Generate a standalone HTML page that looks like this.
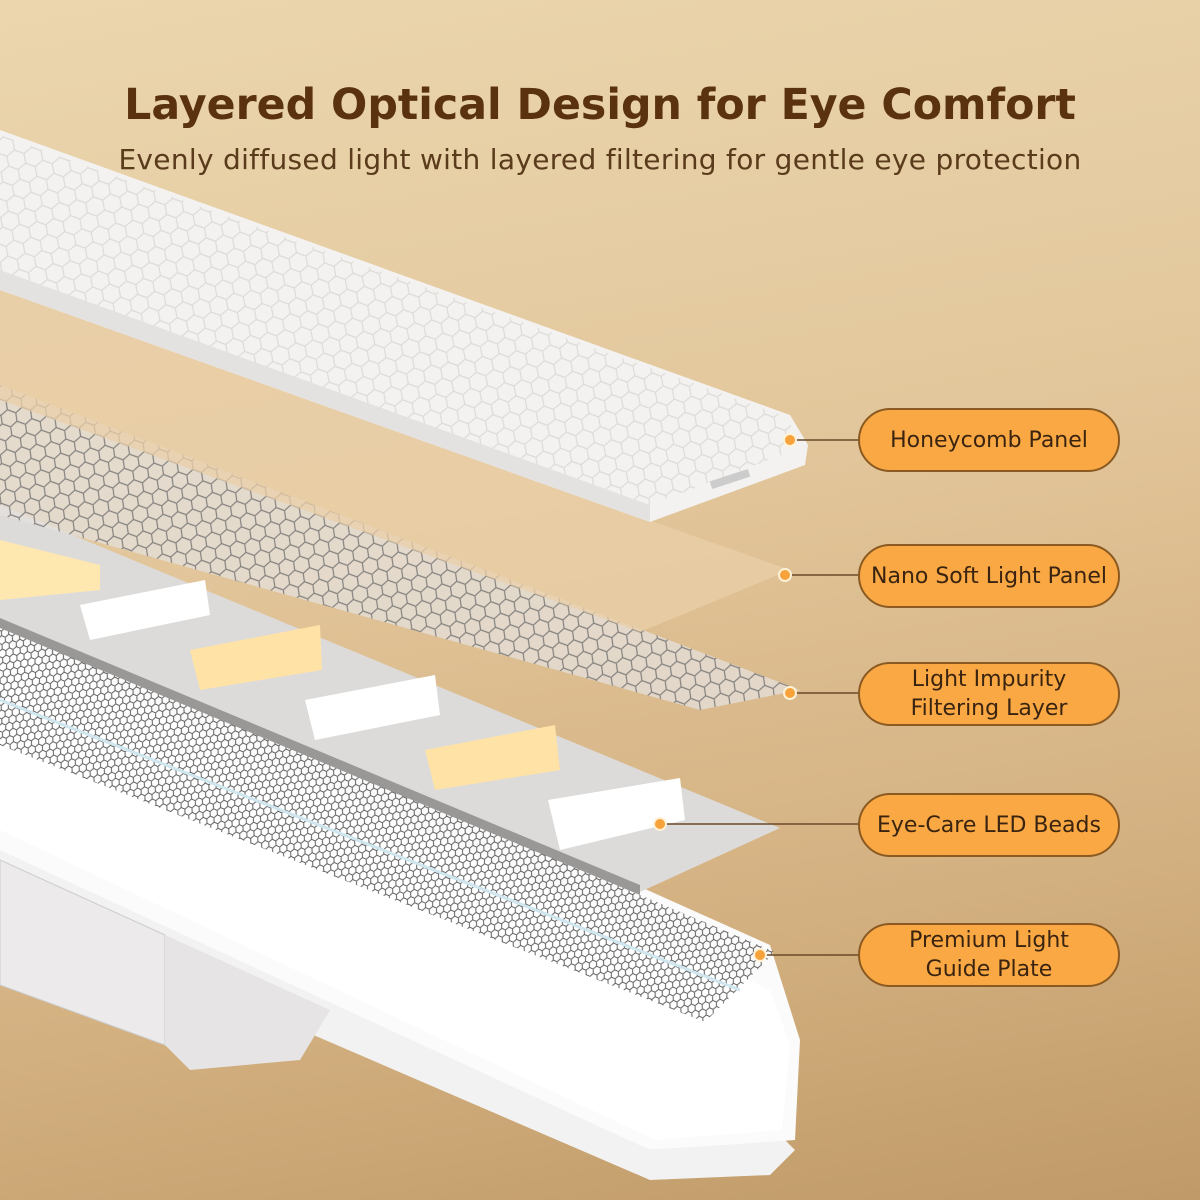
<!DOCTYPE html>
<html><head><meta charset="utf-8"><style>
html,body{margin:0;padding:0}
body{width:1200px;height:1200px;overflow:hidden;position:relative;font-family:"DejaVu Sans","Liberation Sans",sans-serif;background:linear-gradient(170deg,#ebd6ae 0%,#e3c79c 40%,#d3b080 75%,#c09a68 100%)}
h1{position:absolute;top:80px;left:0;width:1200px;text-align:center;margin:0;font-size:42.7px;font-weight:bold;color:#5a3210}
.sub{position:absolute;top:143px;left:0;width:1200px;text-align:center;font-size:28px;color:#5a3b1c;letter-spacing:0.3px}
.pill{position:absolute;left:858px;width:258px;height:60px;border:2px solid #8a5a22;border-radius:32px;background:#f9a844;display:flex;align-items:center;justify-content:center;text-align:center;font-size:22px;line-height:29px;color:#3a2410}
svg{position:absolute;left:0;top:0}
</style></head><body>
<svg width="1200" height="1200" viewBox="0 0 1200 1200">
<defs>
<pattern id="hx" width="30" height="17" patternUnits="userSpaceOnUse" patternTransform="rotate(20)">
<path d="M0 8.5 L5 0 H15 L20 8.5 L15 17 H5 Z M20 8.5 H30" fill="none" stroke="#dcdad6" stroke-width="1.2"/></pattern>
<pattern id="hx2" width="26" height="15" patternUnits="userSpaceOnUse" patternTransform="rotate(20)">
<path d="M0 7.5 L4 0 H13 L17 7.5 L13 15 H4 Z M17 7.5 H26" fill="none" stroke="#6a6a6a" stroke-width="1.2"/></pattern>
<pattern id="hx3" width="12" height="8" patternUnits="userSpaceOnUse" patternTransform="rotate(24)">
<path d="M0 4 L2 0 H6 L8 4 L6 8 H2 Z M8 4 H12" fill="none" stroke="#444" stroke-width="1"/></pattern>
</defs>
<!-- light guide plate -->
<polygon points="0,840 650,1150 785,1140 795,1150 770,1175 650,1180 0,900" fill="#f2f2f2"/>
<polygon points="0,600 770,945 800,1040 795,1140 650,1150 0,850" fill="#fbfbfb"/>
<polygon points="0,640 770,990 790,1045 782,1130 655,1140 0,830" fill="#ffffff"/>
<polygon points="0,625 775,952 705,1022 0,745" fill="url(#hx3)" opacity="0.85"/>
<line x1="0" y1="700" x2="740" y2="990" stroke="#cfe6ee" stroke-width="3"/>
<polygon points="0,860 165,935 165,1045 0,985" fill="#eceaea" stroke="#ccc"/>
<polygon points="165,935 330,1010 300,1060 190,1070 165,1045" fill="#e6e4e4"/>
<!-- LED strip -->
<polygon points="0,505 780,828 640,892 0,620" fill="#dddbd9"/>
<polygon points="0,618 640,885 640,895 0,628" fill="#9a9896"/>
<g>
<polygon points="0,540 100,565 100,590 0,600" fill="#ffe7b0"/>
<polygon points="80,605 205,580 210,615 90,640" fill="#ffffff"/>
<polygon points="190,650 320,625 322,670 200,690" fill="#ffe2a6"/>
<polygon points="305,700 435,675 440,715 315,740" fill="#ffffff"/>
<polygon points="425,750 555,725 560,770 435,790" fill="#ffe2a6"/>
<polygon points="548,800 680,778 685,820 560,850" fill="#ffffff"/>
</g>
<!-- filtering layer -->
<polygon points="0,385 800,690 700,710 0,515" fill="#e4e0dc" opacity="0.75"/>
<polygon points="0,385 800,690 700,710 0,515" fill="url(#hx2)" opacity="0.8"/>
<!-- nano soft panel -->
<polygon points="0,290 790,570 640,632 0,400" fill="#e9cfa8" opacity="0.75"/>
<!-- honeycomb panel -->
<polygon points="0,130 790,415 808,445 805,465 650,522 0,290" fill="#f3f2f0"/>
<polygon points="0,135 790,418 795,450 650,505 0,275" fill="url(#hx)"/>
<polygon points="0,270 650,505 650,522 0,290" fill="#e4e2e0"/>
<rect x="710" y="475" width="40" height="8" fill="#ccc" transform="rotate(-18 730 479)"/>
<!-- connectors -->
<g stroke="#6a4a2a" stroke-width="1.5">
<line x1="790" y1="440" x2="858" y2="440"/><line x1="785" y1="575" x2="858" y2="575"/>
<line x1="790" y1="693" x2="858" y2="693"/><line x1="660" y1="824" x2="858" y2="824"/>
<line x1="760" y1="955" x2="858" y2="955"/></g>
<g fill="#f7a23a" stroke="#fff2d8" stroke-width="2">
<circle cx="790" cy="440" r="6"/><circle cx="785" cy="575" r="6"/><circle cx="790" cy="693" r="6"/><circle cx="660" cy="824" r="6"/><circle cx="760" cy="955" r="6"/></g>
</svg>
<h1>Layered Optical Design for Eye Comfort</h1>
<div class="sub">Evenly diffused light with layered filtering for gentle eye protection</div>
<div class="pill" style="top:408px">Honeycomb Panel</div>
<div class="pill" style="top:544px">Nano Soft Light Panel</div>
<div class="pill" style="top:662px">Light Impurity<br>Filtering Layer</div>
<div class="pill" style="top:793px">Eye-Care LED Beads</div>
<div class="pill" style="top:923px">Premium Light<br>Guide Plate</div>
</body></html>
